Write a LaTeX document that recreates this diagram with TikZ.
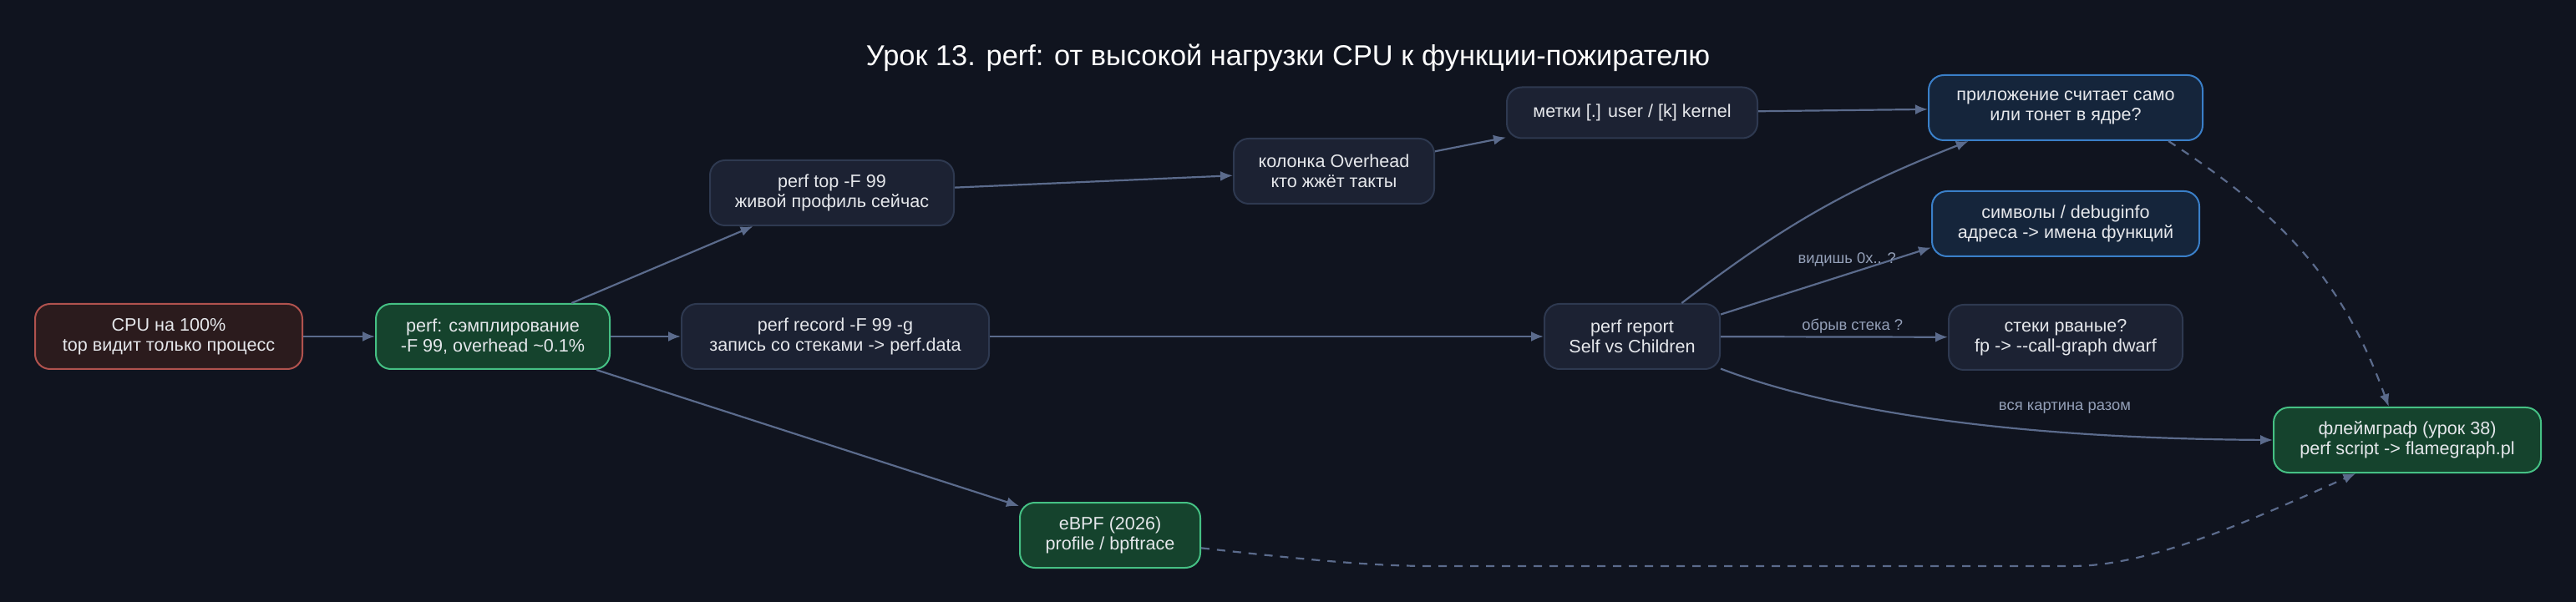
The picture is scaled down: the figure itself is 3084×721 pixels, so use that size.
\documentclass[tikz,border=0pt]{standalone}
\usepackage{fontspec}
\setmainfont{Liberation Sans}
\usetikzlibrary{arrows.meta,positioning}
\definecolor{bgnavy}{HTML}{10141F}
\definecolor{plainfill}{HTML}{1C2233}
\definecolor{plainedge}{HTML}{2E3950}
\definecolor{hotfill}{HTML}{2B1B1D}
\definecolor{hotedge}{HTML}{B0524E}
\definecolor{goodfill}{HTML}{15432D}
\definecolor{goodedge}{HTML}{45C084}
\definecolor{askfill}{HTML}{15253B}
\definecolor{askedge}{HTML}{3A7FC8}
\definecolor{wire}{HTML}{5B6B8C}
\definecolor{nodetext}{HTML}{E5E7EB}
\definecolor{tagtext}{HTML}{94A0B8}

\begin{document}
\begin{tikzpicture}[
    x=0.5pt, y=-0.5pt,
    every node/.style={font=\fontsize{10.8}{12}\selectfont, text=nodetext},
    stepbox/.style={draw=plainedge, fill=plainfill, rounded corners=9pt, align=center, minimum height=39pt, line width=1pt, inner xsep=4pt},
    hotbox/.style={stepbox, draw=hotedge, fill=hotfill},
    goodbox/.style={stepbox, draw=goodedge, fill=goodfill},
    askbox/.style={stepbox, draw=askedge, fill=askfill},
    flow/.style={-{Latex[length=7.5pt,width=6pt]}, line width=1.1pt, draw=wire},
    hint/.style={flow, dash pattern=on 5pt off 4.5pt},
    tag/.style={font=\fontsize{9.2}{11}\selectfont, text=tagtext, inner sep=1.5pt}
]
\fill[bgnavy] (0,0) rectangle (3084,721);
\useasboundingbox (0,0) rectangle (3084,721);

\node[font=\fontsize{17.2}{20}\selectfont, text=white!92!nodetext] (title) at (1542,69) {Урок 13. perf: от высокой нагрузки CPU к функции-пожирателю};

\node[hotbox, minimum width=160pt] (cpu) at (202,403) {CPU на 100\%\\top видит только процесс};
\node[goodbox, minimum width=140pt, right=43pt of cpu] (samp) {perf: сэмплирование\\-F 99, overhead \textasciitilde0.1\%};
\node[stepbox, minimum width=184pt, right=42pt of samp] (record) {perf record -F 99 -g\\запись со стеками -> perf.data};
\node[stepbox, minimum width=146pt] (top) at (996,231) {perf top -F 99\\живой профиль сейчас};
\node[goodbox, minimum width=108pt] (ebpf) at (1329,641) {eBPF (2026)\\profile / bpftrace};
\node[stepbox, minimum width=120pt] (overhead) at (1597,205) {колонка Overhead\\кто жжёт такты};
\node[stepbox, minimum width=150pt, minimum height=30.5pt] (marks) at (1954,135) {метки [.] user / [k] kernel};
\node[stepbox, minimum width=105pt] (report) at (1954,403) {perf report\\Self vs Children};
\node[askbox, minimum width=164pt] (app) at (2473,129) {приложение считает само\\или тонет в ядре?};
\node[askbox, minimum width=160pt] (sym) at (2473,268) {символы / debuginfo\\адреса -> имена функций};
\node[stepbox, minimum width=140pt] (stacks) at (2473,404) {стеки рваные?\\fp -> -{}-call-graph dwarf};
\node[goodbox, minimum width=160pt] (flame) at (2882,527) {флеймграф (урок 38)\\perf script -> flamegraph.pl};

% main path
\draw[flow] (cpu) -- (samp);
\draw[flow] (samp) -- (top);
\draw[flow] (samp) -- (record);
\draw[flow] (samp) -- (ebpf);
\draw[flow] (top) -- (overhead);
\draw[flow] (overhead) -- (marks);
\draw[flow] (marks) -- (app);
\draw[flow] (record) -- (report);

% what report shows
\draw[flow] (report.34) to[bend left=8] (app.-161);
\draw[flow] (report.14) -- node[tag, pos=0.6, above=2.5pt] {видишь 0x.. ?} (sym.190);
\draw[flow] (report) -- node[tag, pos=0.58, above] {обрыв стека ?} (stacks);
\draw[flow] (report.-20) .. controls (2200,495) and (2420,525) .. node[tag, pos=0.7, above=9pt] {вся картина разом} (flame.west);

% to the flame graph
\draw[hint] (app.-18) to[out=-33, in=110] (flame.119);
\draw[hint] (ebpf.-8) .. controls (1560,670) and (1640,678) .. (1716,678) -- (2480,678)
    .. controls (2570,678) and (2680,630) .. (flame.-147);
\end{tikzpicture}
\end{document}
